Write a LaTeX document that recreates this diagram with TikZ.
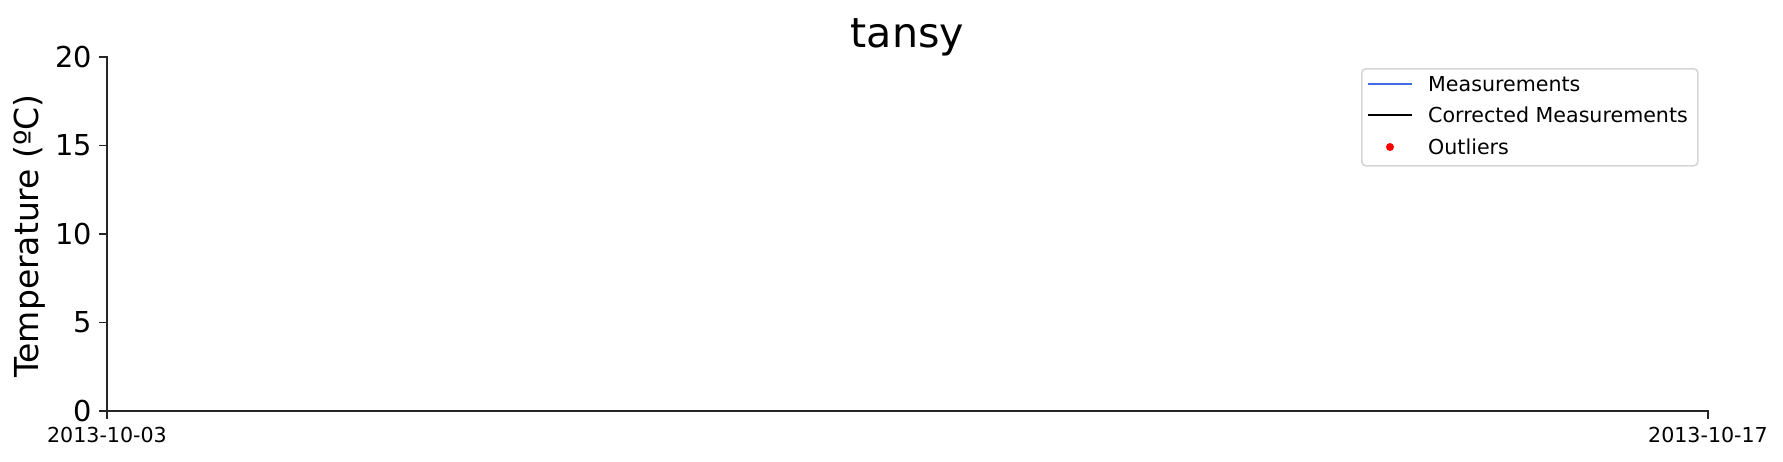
\documentclass[tikz,border=0pt]{standalone}
\usepackage{fontspec}
\setmainfont{DejaVu Sans}
\usetikzlibrary{positioning}

\definecolor{measblue}{RGB}{65,105,225}
\definecolor{legframe}{RGB}{214,214,214}

\begin{document}
\begin{tikzpicture}[x=1pt,y=-1pt,
  axis/.style={line width=1.65pt,draw=black!85,line cap=rect},
  ticklab/.style={font=\fontsize{28.8}{30}\selectfont,inner sep=0pt},
  datelab/.style={font=\fontsize{20.6}{22}\selectfont,inner sep=0pt},
  legtext/.style={font=\fontsize{20.6}{22}\selectfont,inner sep=0pt,anchor=west}]
  \useasboundingbox (0,0) rectangle (1783,461);
  % axes
  \coordinate (o) at (107,411);
  \coordinate (ytop) at (107,57);
  \coordinate (xend) at (1708,411);
  \draw[axis] (ytop) -- (o) -- (xend);
  \foreach \v in {0,5,...,20}
  {
    \coordinate (yt\v) at (107,{411-17.7*\v});
    \coordinate (ytl\v) at (100,{411-17.7*\v});
    \draw[axis] (yt\v) -- (ytl\v);
    \node[ticklab,anchor=east,left=8pt of ytl\v] (ylab\v) {\v};
  }
  \coordinate (xtl0) at (107,418);
  \coordinate (xtl1) at (1708,418);
  \draw[axis] (o) -- (xtl0) (xend) -- (xtl1);
  \node[datelab,below=9pt of xtl0] (xlab0) {2013-10-03};
  \node[datelab,below=9pt of xtl1] (xlab1) {2013-10-17};
  % labels
  \node[font=\fontsize{33}{35}\selectfont,inner sep=0pt,rotate=90] (ylabel) at (29,236) {Temperature (ºC)};
  \node[font=\fontsize{41.2}{43}\selectfont,inner sep=0pt,anchor=base] (title) at (907.5,47) {tansy};
  % legend
  \node[draw=legframe,line width=1.6pt,rounded corners=4pt,fill=white,
        minimum width=336pt,minimum height=97pt,anchor=north west,inner sep=0pt] (legend) at (1361,68) {};
  \coordinate (m1) at (1368,84);  \coordinate (m2) at (1412,84);
  \coordinate (c1) at (1368,115); \coordinate (c2) at (1412,115);
  \coordinate (dot) at (1390,147);
  \draw[measblue,line width=2pt] (m1) -- (m2);
  \draw[black,line width=2.6pt] (c1) -- (c2);
  \fill[red] (dot) circle (4pt);
  \node[legtext] (lmeas) at (1428,84) {Measurements};
  \node[legtext] (lcorr) at (1428,115) {Corrected Measurements};
  \node[legtext] (lout) at (1428,147) {Outliers};
\end{tikzpicture}
\end{document}
